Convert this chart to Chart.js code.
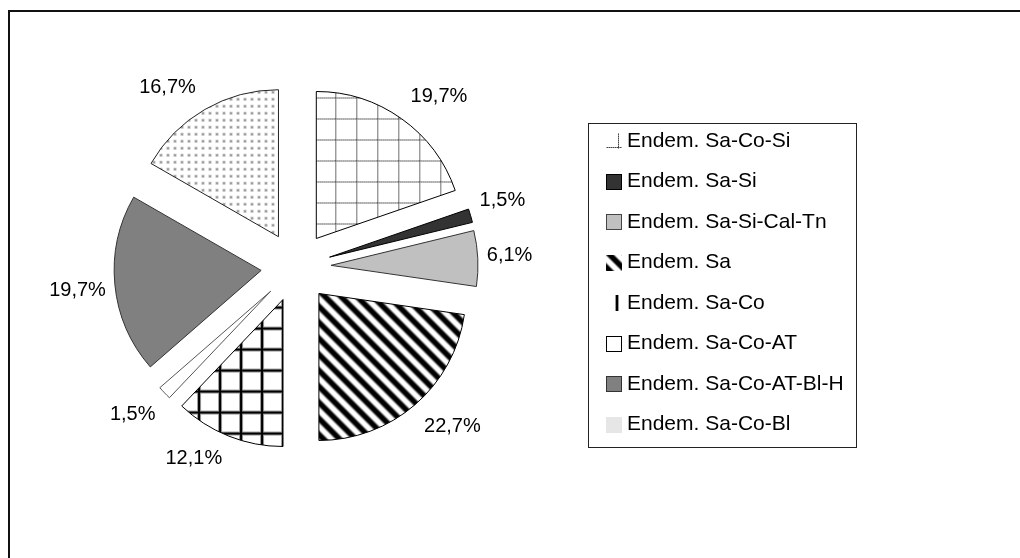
<!DOCTYPE html>
<html>
<head>
<meta charset="utf-8">
<script src="https://cdn.jsdelivr.net/npm/chart.js"></script>
<style>
  html, body { margin: 0; padding: 0; background: #fff; }
  #frame { position: absolute; left: 8px; top: 10px; width: 1100px; height: 600px;
           border-top: 2px solid #111; border-left: 2px solid #111; }
  #c { position: absolute; left: 0; top: 0; }
</style>
</head>
<body>
<div id="frame"></div>
<canvas id="c" width="1020" height="558"></canvas>
<script>
// shares of endemic groups (percent)
const categories = ['Endem. Sa-Co-Si', 'Endem. Sa-Si', 'Endem. Sa-Si-Cal-Tn', 'Endem. Sa',
                    'Endem. Sa-Co', 'Endem. Sa-Co-AT', 'Endem. Sa-Co-AT-Bl-H', 'Endem. Sa-Co-Bl'];
const shares = [19.7, 1.5, 6.1, 22.7, 12.1, 1.5, 19.7, 16.7];

const EXPLODE = 35;
const LABEL_FONT = "20px 'Liberation Sans', Arial, sans-serif";
const LEGEND_FONT = "21px 'Liberation Sans', Arial, sans-serif";

const canvas = document.getElementById('c');
const ctx = canvas.getContext('2d');

function tile(w, h, paint) {
    const t = document.createElement('canvas');
    t.width = w; t.height = h;
    const g = t.getContext('2d');
    g.fillStyle = '#fff';
    g.fillRect(0, 0, w, h);
    paint(g, w, h);
    return ctx.createPattern(t, 'repeat');
}

// dotted grid (Sa-Co-Si)
const dottedGrid = tile(21, 21, (g, w) => {
    for (let i = 0; i < w; i++) {
        g.fillStyle = i % 2 ? '#999' : '#444';
        g.fillRect(i, 0, 1, 1);
        g.fillRect(0, i, 1, 1);
    }
});
// diagonal stripes (Sa)
const stripes = tile(16, 16, (g, w, h) => {
    const img = g.createImageData(w, h);
    for (let y = 0; y < h; y++) {
        for (let x = 0; x < w; x++) {
            const t = (((x - y) % 16) + 16) % 16 / 16;
            let v = 0.5 - 0.9 * Math.cos(2 * Math.PI * t);
            v = Math.max(0, Math.min(1, v)) * 255;
            const k = (y * w + x) * 4;
            img.data[k] = img.data[k + 1] = img.data[k + 2] = v;
            img.data[k + 3] = 255;
        }
    }
    g.putImageData(img, 0, 0);
});
// black grid (Sa-Co)
const blackGrid = tile(21, 21, (g, w, h) => {
    g.fillStyle = '#999';
    g.fillRect(0, 0, 4, h);
    g.fillRect(0, 0, w, 4);
    g.fillStyle = '#000';
    g.fillRect(1, 0, 2, h);
    g.fillRect(0, 1, w, 2);
});
// dots (Sa-Co-Bl)
const dots = tile(7, 7, (g) => {
    g.fillStyle = '#bbb';
    g.fillRect(2, 2, 3, 3);
    g.fillStyle = '#666';
    g.fillRect(3, 3, 1, 1);
});

const fills = [dottedGrid, '#333333', '#c0c0c0', stripes, blackGrid, '#ffffff', '#808080', dots];
const borders = ['#000', '#000', '#333', '#000', '#000', '#555', '#333', '#222'];

// legend swatches as drawn in the original
const keyFills = [dottedGrid, '#333333', '#c0c0c0', stripes, blackGrid, '#ffffff', '#808080', '#e6e6e6'];
const keyBorders = [null, '#000', '#444', null, null, '#000', '#333', null];
const keyShift = [[12, 14], [0, 0], [0, 0], [4, 0], [-12, -4], [0, 0], [0, 0], [0, 0]];

const explodePlugin = {
    id: 'explode',
    beforeDatasetDraw(chart, args) {
        args.meta.data.forEach(el => {
            if (el._exploded) return;
            el._exploded = true;
            const orig = el.draw;
            el.draw = function (c, area) {
                const mid = (this.startAngle + this.endAngle) / 2;
                c.save();
                c.translate(Math.cos(mid) * EXPLODE, Math.sin(mid) * EXPLODE);
                orig.call(this, c, area);
                c.restore();
            };
        });
    }
};

const labelPlugin = {
    id: 'sliceLabels',
    afterDatasetsDraw(chart) {
        const c = chart.ctx;
        const meta = chart.getDatasetMeta(0);
        c.save();
        c.font = LABEL_FONT;
        c.fillStyle = '#000';
        c.textAlign = 'center';
        c.textBaseline = 'middle';
        meta.data.forEach((el, i) => {
            const txt = shares[i].toFixed(1).replace('.', ',') + '%';
            const w = c.measureText(txt).width;
            const mid = (el.startAngle + el.endAngle) / 2;
            const dx = Math.cos(mid), dy = Math.sin(mid);
            const r = el.outerRadius + EXPLODE;
            const ax = el.x + dx * r, ay = el.y + dy * r;
            const kx = Math.min(1, Math.abs(dx) * 2.5), ky = Math.min(1, Math.abs(dy) * 2.5);
            c.fillText(txt, ax + Math.sign(dx) * (w / 2 + 9) * kx, ay + Math.sign(dy) * 22 * ky);
        });
        c.restore();
    }
};

const legendPlugin = {
    id: 'boxLegend',
    afterDraw(chart) {
        const c = chart.ctx;
        c.save();
        c.strokeStyle = '#222';
        c.lineWidth = 1;
        c.strokeRect(588.5, 123.5, 268, 324);
        c.font = LEGEND_FONT;
        c.textBaseline = 'middle';
        chart.data.labels.forEach((lab, i) => {
            const y = 141 + i * 40.5;
            c.save();
            c.translate(606, Math.round(y) - 8);
            c.beginPath();
            c.rect(0, 0, 16, 16);
            c.clip();
            c.translate(keyShift[i][0], keyShift[i][1]);
            c.fillStyle = keyFills[i];
            c.fillRect(-30, -30, 60, 60);
            c.restore();
            if (keyBorders[i]) {
                c.strokeStyle = keyBorders[i];
                c.strokeRect(606.5, Math.round(y) - 7.5, 15, 15);
            }
            c.fillStyle = '#000';
            c.fillText(lab, 627, y);
        });
        c.restore();
    }
};

new Chart(canvas, {
    type: 'pie',
    data: {
        labels: categories,
        datasets: [{
            data: shares,
            backgroundColor: fills,
            borderColor: borders,
            borderWidth: 1
        }]
    },
    options: {
        responsive: false,
        animation: false,
        devicePixelRatio: 1,
        events: [],
        radius: 147,
        layout: { padding: { left: 0, right: 428, top: 0, bottom: 24 } },
        plugins: {
            legend: { display: false },
            tooltip: { enabled: false }
        }
    },
    plugins: [explodePlugin, labelPlugin, legendPlugin]
});
</script>
</body>
</html>
